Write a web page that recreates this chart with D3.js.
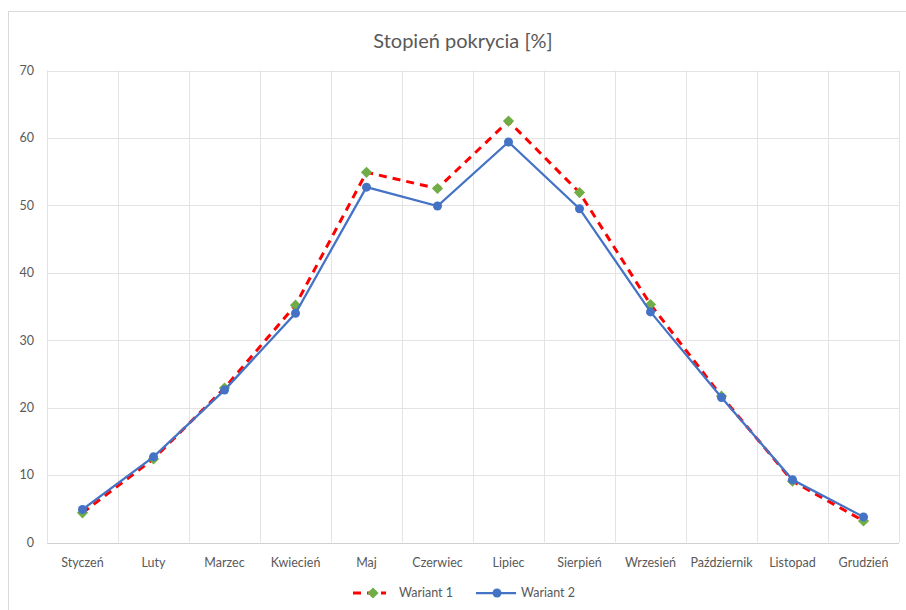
<!DOCTYPE html>
<html>
<head>
<meta charset="utf-8">
<script src="https://cdn.jsdelivr.net/npm/d3@7"></script>
<style>
  body { margin: 0; background: #fff; }
  text { font-family: Lato, "Open Sans", sans-serif; fill: #595959; }
</style>
</head>
<body>
<div id="chart"></div>
<script>
var months = ["Styczeń", "Luty", "Marzec", "Kwiecień", "Maj", "Czerwiec", "Lipiec",
              "Sierpień", "Wrzesień", "Październik", "Listopad", "Grudzień"];
var wariant1 = [4.4, 12.4, 22.9, 35.2, 54.9, 52.5, 62.5, 51.9, 35.3, 21.7, 9.1, 3.2];
var wariant2 = [4.9, 12.7, 22.6, 34.0, 52.7, 49.9, 59.4, 49.5, 34.2, 21.5, 9.3, 3.8];
var yTicks = [0, 10, 20, 30, 40, 50, 60, 70];

var width = 906, height = 610;
var plotLeft = 47, plotRight = 899, plotTop = 70.5, plotBottom = 542.5;

var svg = d3.select("#chart").append("svg")
    .attr("width", width)
    .attr("height", height);

// chart frame
svg.append("rect")
    .attr("x", 8.5).attr("y", 11.5)
    .attr("width", 910).attr("height", 610)
    .attr("fill", "#fff")
    .attr("stroke", "#d9d9d9");

var x = d3.scaleBand().domain(months).range([plotLeft, plotRight]);
var y = d3.scaleLinear().domain([0, 70]).range([plotBottom, plotTop]);

// horizontal grid
svg.append("g").selectAll("line")
    .data(yTicks)
    .enter().append("line")
    .attr("x1", plotLeft).attr("x2", plotRight)
    .attr("y1", function (d) { return Math.round(y(d)) + 0.5; })
    .attr("y2", function (d) { return Math.round(y(d)) + 0.5; })
    .attr("stroke", function (d) { return d === 0 ? "#d0d0d0" : "#e3e3e3"; });

// vertical grid at band edges
var edges = months.map(function (m) { return x(m); }).concat([plotRight]);
svg.append("g").selectAll("line")
    .data(edges)
    .enter().append("line")
    .attr("x1", function (d) { return Math.round(d) + 0.5; })
    .attr("x2", function (d) { return Math.round(d) + 0.5; })
    .attr("y1", plotTop).attr("y2", plotBottom)
    .attr("stroke", "#e3e3e3");

// y labels
svg.append("g").selectAll("text")
    .data(yTicks)
    .enter().append("text")
    .attr("x", 34)
    .attr("y", function (d) { return y(d); })
    .attr("dy", "0.35em")
    .attr("text-anchor", "end")
    .attr("font-size", 12.5)
    .text(function (d) { return d; });

// x labels
svg.append("g").selectAll("text")
    .data(months)
    .enter().append("text")
    .attr("x", function (d) { return x(d) + x.bandwidth() / 2; })
    .attr("y", 567)
    .attr("text-anchor", "middle")
    .attr("font-size", 12.5)
    .text(function (d) { return d; });

// title
svg.append("text")
    .attr("x", 463)
    .attr("y", 48)
    .attr("text-anchor", "middle")
    .attr("font-size", 20)
    .text("Stopień pokrycia [%]");

var cx = function (d, i) { return x(months[i]) + x.bandwidth() / 2; };
var line = d3.line()
    .x(cx)
    .y(function (d) { return y(d); });

var diamond = d3.symbol().type(d3.symbolDiamond2).size(80);

// Wariant 1
svg.append("path")
    .datum(wariant1)
    .attr("d", line)
    .attr("fill", "none")
    .attr("stroke", "#ff0000")
    .attr("stroke-width", 3)
    .attr("stroke-dasharray", "8,6");

svg.append("g").selectAll("path")
    .data(wariant1)
    .enter().append("path")
    .attr("d", diamond)
    .attr("transform", function (d, i) { return "translate(" + cx(d, i) + "," + y(d) + ")"; })
    .attr("fill", "#70ad47");

// Wariant 2
svg.append("path")
    .datum(wariant2)
    .attr("d", line)
    .attr("fill", "none")
    .attr("stroke", "#4472c4")
    .attr("stroke-width", 2.25);

svg.append("g").selectAll("circle")
    .data(wariant2)
    .enter().append("circle")
    .attr("cx", cx)
    .attr("cy", function (d) { return y(d); })
    .attr("r", 4.5)
    .attr("fill", "#4472c4");

// legend
var legend = svg.append("g");
legend.append("line")
    .attr("x1", 353).attr("x2", 386).attr("y1", 593).attr("y2", 593)
    .attr("stroke", "#ff0000").attr("stroke-width", 3)
    .attr("stroke-dasharray", "8,6");
legend.append("path")
    .attr("d", diamond)
    .attr("transform", "translate(373,593)")
    .attr("fill", "#70ad47");
legend.append("text")
    .attr("x", 399).attr("y", 593).attr("dy", "0.35em")
    .attr("font-size", 12.5)
    .text("Wariant 1");

legend.append("line")
    .attr("x1", 476).attr("x2", 516).attr("y1", 593).attr("y2", 593)
    .attr("stroke", "#4472c4").attr("stroke-width", 2.25);
legend.append("circle")
    .attr("cx", 497).attr("cy", 593).attr("r", 4.5)
    .attr("fill", "#4472c4");
legend.append("text")
    .attr("x", 521).attr("y", 593).attr("dy", "0.35em")
    .attr("font-size", 12.5)
    .text("Wariant 2");
</script>
</body>
</html>
